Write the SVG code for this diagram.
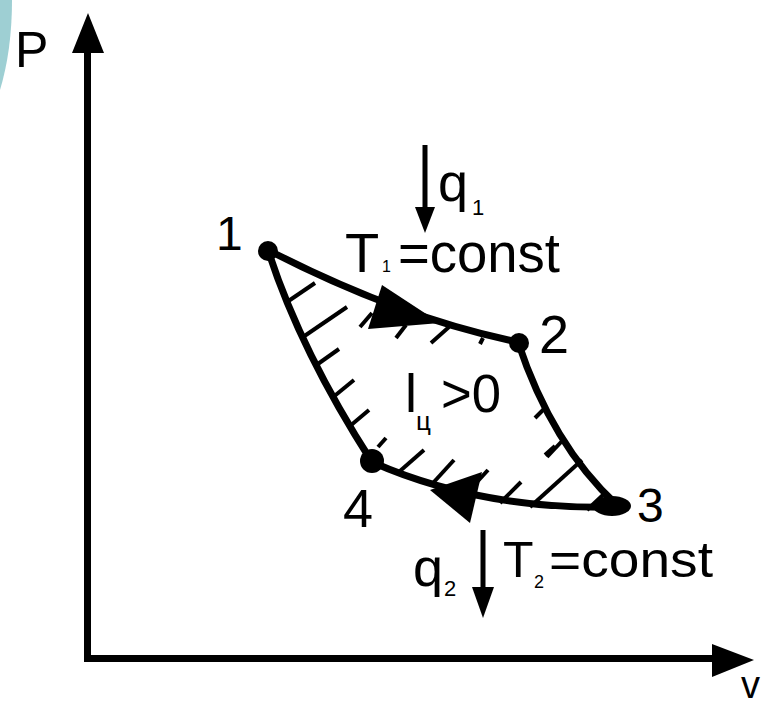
<svg xmlns="http://www.w3.org/2000/svg" width="765" height="707" viewBox="0 0 765 707">
<style>
.t{font-family:"Liberation Sans",Arial,sans-serif;fill:#000}
.ax{stroke:#000;stroke-width:7;fill:none}
.cv{stroke:#000;stroke-width:7;fill:none;stroke-linecap:round}
.h{stroke:#000;stroke-width:4;stroke-linecap:butt}
.ah{fill:#000}
</style>
<rect width="765" height="707" fill="#fff"/>
<path d="M0,0 L12,0 Q12,50 0,90 Z" fill="#9ecfd3"/>
<g id="axes">
<line class="ax" x1="87.5" y1="50" x2="87.5" y2="658.5"/>
<line class="ax" x1="84" y1="658.5" x2="715" y2="658.5"/>
<polygon class="ah" points="88,13 104,53 72,53"/>
<polygon class="ah" points="754,660 712,644 712,677"/>
<text class="t" x="15" y="67" font-size="50">P</text>
<text class="t" x="741" y="698" font-size="38">v</text>
</g>
<g id="connectors">
<path class="cv" d="M268,250 Q400,318 518,342"/>
<path class="cv" d="M518,342 Q552,445 617,505"/>
<path class="cv" d="M617,507 Q480,510 372,462"/>
<path class="cv" d="M372,462 Q300,350 268,250"/>
<polygon class="ah" points="382,285 440,323 368,329"/>
<polygon class="ah" points="430,490 482,472 470,523"/>
</g>
<g id="hatching">
<line class="h" x1="287" y1="302" x2="315" y2="283"/>
<line class="h" x1="303" y1="337" x2="347" y2="307"/>
<line class="h" x1="315" y1="366" x2="339" y2="349"/>
<line class="h" x1="332" y1="398" x2="354" y2="380"/>
<line class="h" x1="350" y1="426" x2="369" y2="410"/>
<line class="h" x1="378" y1="447" x2="386" y2="438"/>
<line class="h" x1="360" y1="327" x2="372" y2="313"/>
<line class="h" x1="396" y1="338" x2="406" y2="325"/>
<line class="h" x1="431" y1="343" x2="449" y2="327"/>
<line class="h" x1="480" y1="344" x2="483" y2="338"/>
<line class="h" x1="400" y1="471" x2="424" y2="450"/>
<line class="h" x1="433" y1="483" x2="454" y2="460"/>
<line class="h" x1="477" y1="482" x2="488" y2="470"/>
<line class="h" x1="500" y1="503" x2="521" y2="482"/>
<line class="h" x1="530" y1="507" x2="582" y2="460"/>
<line class="h" x1="547" y1="457" x2="563" y2="440"/>
<line class="h" x1="587" y1="510" x2="603" y2="495"/>
<line class="h" x1="535" y1="418" x2="545" y2="408"/>
<line class="h" x1="545" y1="455" x2="555" y2="446"/>
</g>
<g id="node1">
<circle cx="268" cy="251" r="10"/>
<text class="t" x="216" y="250" font-size="48">1</text>
</g>
<g id="node2">
<circle cx="519" cy="343" r="10"/>
<text class="t" x="539" y="353" font-size="54">2</text>
</g>
<g id="node3">
<ellipse cx="612" cy="506" rx="19" ry="10"/>
<text class="t" x="637" y="522" font-size="48">3</text>
</g>
<g id="node4">
<circle cx="372" cy="461" r="12"/>
<text class="t" x="343" y="527" font-size="54">4</text>
</g>
<g id="q1">
<line x1="425" y1="145" x2="425" y2="212" stroke="#000" stroke-width="5"/>
<polygon class="ah" points="415,207 435,207 425,233"/>
<text class="t" x="438" y="201" font-size="54">q</text>
<text class="t" x="472" y="215" font-size="22">1</text>
</g>
<g id="T1">
<text class="t" x="345" y="272" font-size="56">T</text>
<text class="t" x="382" y="272" font-size="16">1</text>
<text class="t" x="398" y="272" font-size="56" textLength="162" lengthAdjust="spacingAndGlyphs">=const</text>
</g>
<g id="work">
<text class="t" x="405" y="412" font-size="54">l</text>
<text class="t" x="416" y="430" font-size="26">ц</text>
<text class="t" x="441" y="412" font-size="54" textLength="60" lengthAdjust="spacingAndGlyphs">&gt;0</text>
</g>
<g id="q2">
<line x1="483" y1="530" x2="483" y2="592" stroke="#000" stroke-width="5"/>
<polygon class="ah" points="472,587 494,587 483,618"/>
<text class="t" x="413" y="586" font-size="54">q</text>
<text class="t" x="444" y="596" font-size="22">2</text>
</g>
<g id="T2">
<text class="t" x="503" y="577" font-size="50">T</text>
<text class="t" x="534" y="588" font-size="18">2</text>
<text class="t" x="549" y="577" font-size="50" textLength="164" lengthAdjust="spacingAndGlyphs">=const</text>
</g>
</svg>
